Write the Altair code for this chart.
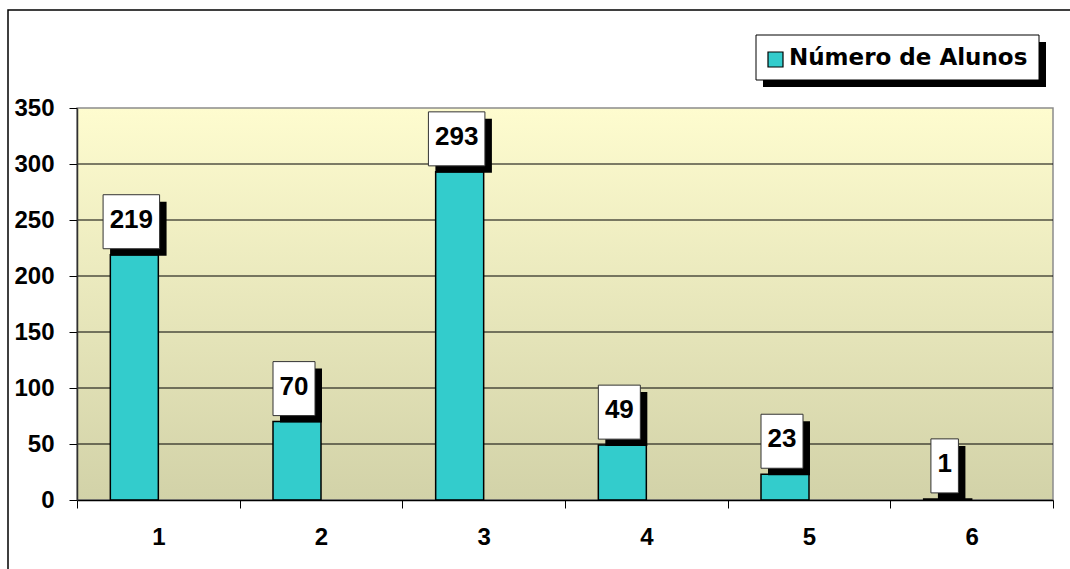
import altair as alt
import pandas as pd

# ---- data ----
categories = ["1", "2", "3", "4", "5", "6"]
alunos = [219, 70, 293, 49, 23, 1]
series_name = "Número de Alunos"
y_ticks = [0, 50, 100, 150, 200, 250, 300, 350]
grid_values = [50, 100, 150, 200, 250, 300]

W, H = 976, 392
FONT = "Liberation Sans"
TEAL = "#33CCCC"

df = pd.DataFrame({"cat": categories, "alunos": alunos})
grid_df = pd.DataFrame({"g": grid_values})
one = pd.DataFrame({"k": [0]})

y_scale = alt.Scale(domain=[0, 350], nice=False, zero=True)
x_enc = alt.X(
    "cat:N",
    sort=categories,
    scale=alt.Scale(paddingInner=0, paddingOuter=0),
    axis=alt.Axis(
        title=None, labelAngle=0, tickBand="extent", tickSize=8, tickColor="black",
        domainColor="black", domainWidth=1.5, labelFont=FONT, labelFontSize=24,
        labelFontWeight="bold", labelColor="black", labelPadding=17, zindex=1,
    ),
)
y_enc = alt.Y(
    "alunos:Q",
    scale=y_scale,
    axis=alt.Axis(
        title=None, values=y_ticks, grid=False, tickSize=8, tickColor="black",
        domainColor="#303030", domainWidth=1.5, labelFont=FONT, labelFontSize=24,
        labelFontWeight="bold", labelColor="black", labelPadding=15,
        labelOverlap=False, zindex=1,
    ),
)

# outer frame
frame = alt.Chart(one).mark_rect(fillOpacity=0, stroke="black", strokeWidth=1.5).encode(
    x=alt.value(-69), x2=alt.value(1000), y=alt.value(-98), y2=alt.value(470)
)

# plot background gradient
bg = alt.Chart(one).mark_rect(
    color=alt.LinearGradient(
        gradient="linear", x1=0, y1=0, x2=0, y2=1,
        stops=[alt.GradientStop(color="#FEFCCF", offset=0),
               alt.GradientStop(color="#D2D2A8", offset=1)],
    ),
    stroke="#8C8C8C", strokeWidth=1.5,
).encode(x=alt.value(0), x2=alt.value(W), y=alt.value(0), y2=alt.value(H))

grid = alt.Chart(grid_df).mark_rule(color="black", strokeWidth=1).encode(
    y=alt.Y("g:Q", scale=y_scale)
)

base = alt.Chart(df).encode(x=x_enc)

bars = base.mark_bar(width=48, xOffset=-24, color=TEAL, stroke="black", strokeWidth=1.5).encode(
    y=y_enc
)

shapes = base.transform_calculate(
    n="length(toString(datum.alunos))"
).transform_calculate(
    hw="(13 + 14.5 * datum.n) / 54"
).transform_calculate(
    box="'M' + (-1 - datum.hw) + ',-2.222H' + (-1 + datum.hw) + 'V-0.222H' + (-1 - datum.hw) + 'Z'",
    shadow="'M' + (-0.741 - datum.hw) + ',-1.963H' + (-0.741 + datum.hw) + 'V0.037H' + (-0.741 - datum.hw) + 'Z'",
)

shadows = shapes.mark_point(filled=True, color="black", opacity=1, size=2916).encode(
    y=alt.Y("alunos:Q", scale=y_scale), shape=alt.Shape("shadow:N", scale=None)
)
boxes = shapes.mark_point(
    filled=True, fill="white", stroke="#333333", strokeWidth=1, opacity=1, size=2916
).encode(
    y=alt.Y("alunos:Q", scale=y_scale), shape=alt.Shape("box:N", scale=None)
)
labels = base.mark_text(
    dx=-27, dy=-35, font=FONT, fontSize=26, fontWeight="bold", color="black",
    baseline="middle", align="center",
).encode(y=alt.Y("alunos:Q", scale=y_scale), text=alt.Text("alunos:Q"))

# legend (drawn)
leg_shadow = alt.Chart(one).mark_rect(color="black").encode(
    x=alt.value(686), x2=alt.value(969), y=alt.value(-66), y2=alt.value(-21)
)
leg_box = alt.Chart(one).mark_rect(fill="white", stroke="black", strokeWidth=1).encode(
    x=alt.value(679), x2=alt.value(962), y=alt.value(-73), y2=alt.value(-28)
)
leg_sym = alt.Chart(one).mark_rect(fill=TEAL, stroke="black", strokeWidth=1.2).encode(
    x=alt.value(691), x2=alt.value(706), y=alt.value(-56), y2=alt.value(-41)
)
leg_text = alt.Chart(one).mark_text(
    font="DejaVu Sans", fontSize=23, fontWeight="bold", color="black",
    align="left", baseline="middle",
).encode(x=alt.value(712), y=alt.value(-50), text=alt.value(series_name))

chart = alt.layer(
    frame, bg, grid, bars, shadows, boxes, labels, leg_shadow, leg_box, leg_sym, leg_text
).properties(
    width=W, height=H,
    autosize=alt.AutoSizeParams(type="none"),
    padding={"left": 77, "top": 108, "right": 17, "bottom": 69},
    background="white",
).configure_view(stroke=None)

chart.save("out.html", embed_options={"renderer": "svg", "actions": False})
